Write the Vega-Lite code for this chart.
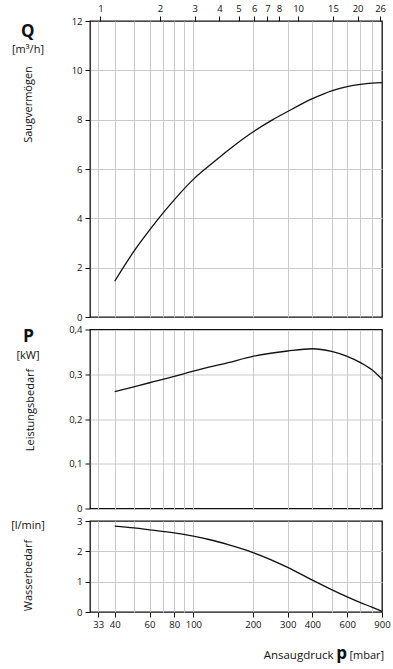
{
  "$schema": "https://vega.github.io/schema/vega-lite/v6.json",
  "background": "white",
  "padding": {"left": 9, "top": 2, "right": 6, "bottom": 4},
  "bounds": "flush",
  "spacing": 12.5,
  "datasets": {
    "saug": [
      {"druck": 40, "wert": 1.45}, {"druck": 50, "wert": 2.66},
      {"druck": 60, "wert": 3.52}, {"druck": 70, "wert": 4.2}, {"druck": 80, "wert": 4.75},
      {"druck": 100, "wert": 5.58}, {"druck": 125, "wert": 6.24}, {"druck": 150, "wert": 6.76},
      {"druck": 200, "wert": 7.5}, {"druck": 250, "wert": 7.98}, {"druck": 300, "wert": 8.33},
      {"druck": 400, "wert": 8.85}, {"druck": 500, "wert": 9.17}, {"druck": 600, "wert": 9.34},
      {"druck": 700, "wert": 9.43}, {"druck": 800, "wert": 9.48}, {"druck": 900, "wert": 9.5}
    ],
    "leistung": [
      {"druck": 40, "wert": 0.261}, {"druck": 50, "wert": 0.272}, {"druck": 60, "wert": 0.281},
      {"druck": 80, "wert": 0.295}, {"druck": 100, "wert": 0.307}, {"druck": 150, "wert": 0.326},
      {"druck": 200, "wert": 0.34}, {"druck": 300, "wert": 0.352}, {"druck": 400, "wert": 0.357},
      {"druck": 500, "wert": 0.351}, {"druck": 600, "wert": 0.34}, {"druck": 700, "wert": 0.326},
      {"druck": 800, "wert": 0.31}, {"druck": 900, "wert": 0.289}
    ],
    "wasser": [
      {"druck": 40, "wert": 2.83}, {"druck": 50, "wert": 2.77}, {"druck": 60, "wert": 2.71},
      {"druck": 80, "wert": 2.61}, {"druck": 100, "wert": 2.5}, {"druck": 120, "wert": 2.39},
      {"druck": 150, "wert": 2.22}, {"druck": 200, "wert": 1.96}, {"druck": 300, "wert": 1.47},
      {"druck": 400, "wert": 1.05}, {"druck": 500, "wert": 0.74}, {"druck": 600, "wert": 0.5},
      {"druck": 700, "wert": 0.31}, {"druck": 800, "wert": 0.16}, {"druck": 900, "wert": 0.02}
    ]
  },
  "config": {
    "font": "Open Sans",
    "view": {"stroke": "#111111", "strokeWidth": 1.3},
    "axis": {
      "labelFont": "Open Sans", "labelFontSize": 9.5, "labelColor": "#111111",
      "titleFont": "Open Sans", "titleFontSize": 11, "titleFontWeight": "normal", "titleColor": "#111111",
      "tickColor": "#111111", "tickSize": 5, "labelPadding": 3,
      "gridColor": "#cacaca", "gridWidth": 1, "domain": false,
      "labelOverlap": false, "labelFlush": false
    },
    "line": {"color": "#111111", "strokeWidth": 1.3, "interpolate": "monotone"}
  },
  "vconcat": [
    {
      "width": 292, "height": 296,
      "data": {"name": "saug"},
      "resolve": {"axis": {"x": "independent", "y": "independent"}},
      "layer": [
        {
          "mark": {"type": "line"},
          "encoding": {
            "x": {"field": "druck", "type": "quantitative", "scale": {"type": "log", "domain": [30, 900]},
              "axis": {"orient": "bottom", "values": [33, 40, 50, 60, 70, 80, 90, 100, 200, 300, 400, 500, 600, 700, 800], "labels": false, "ticks": false, "grid": true, "title": null}},
            "y": {"field": "wert", "type": "quantitative", "scale": {"domain": [0, 12]},
              "axis": {"orient": "left", "values": [0, 2, 4, 6, 8, 10, 12], "grid": false, "title": "Saugvermögen", "titleAngle": 270, "titleX": -61.7, "titleY": 83, "titleAlign": "center", "titleBaseline": "middle"}}
          }
        },
        {
          "mark": {"type": "line", "opacity": 0},
          "encoding": {
            "x": {"field": "druck", "type": "quantitative", "scale": {"type": "log", "domain": [30, 900]},
              "axis": {"orient": "top", "values": [33.864, 67.728, 101.592, 135.456, 169.32, 203.183, 237.047, 270.911, 338.639, 507.959, 677.278, 880.461],
                "labelExpr": "format(datum.value / 33.8639, '.0f')", "grid": false, "tickSize": 5, "labelPadding": 3, "title": null}},
            "y": {"field": "wert", "type": "quantitative", "scale": {"domain": [0, 12]},
              "axis": {"orient": "left", "labels": false, "ticks": false, "grid": false, "title": "Q", "titleAngle": 0, "titleX": -62.7, "titleY": 15.5, "titleAlign": "center", "titleBaseline": "alphabetic", "titleFontSize": 17, "titleFontWeight": "bold"}}
          }
        },
        {
          "mark": {"type": "line", "opacity": 0},
          "encoding": {
            "x": {"field": "druck", "type": "quantitative", "scale": {"type": "log", "domain": [30, 900]}, "axis": null},
            "y": {"field": "wert", "type": "quantitative", "scale": {"domain": [0, 12]},
              "axis": {"orient": "left", "values": [2, 4, 6, 8, 10], "labels": false, "ticks": false, "grid": true, "title": "[m³/h]", "titleAngle": 0, "titleX": -62.5, "titleY": 31.5, "titleAlign": "center", "titleBaseline": "alphabetic"}}
          }
        }
      ]
    },
    {
      "width": 292, "height": 179,
      "data": {"name": "leistung"},
      "resolve": {"axis": {"x": "independent", "y": "independent"}},
      "layer": [
        {
          "mark": {"type": "line"},
          "encoding": {
            "x": {"field": "druck", "type": "quantitative", "scale": {"type": "log", "domain": [30, 900]},
              "axis": {"orient": "bottom", "values": [33, 40, 50, 60, 70, 80, 90, 100, 200, 300, 400, 500, 600, 700, 800], "labels": false, "ticks": false, "grid": true, "title": null}},
            "y": {"field": "wert", "type": "quantitative", "scale": {"domain": [0, 0.4]},
              "axis": {"orient": "left", "values": [0, 0.1, 0.2, 0.3, 0.4], "labelExpr": "datum.value == 0 ? '0' : replace(format(datum.value, '.1f'), '.', ',')", "grid": false,
                "title": "Leistungsbedarf", "titleAngle": 270, "titleX": -60, "titleY": 80, "titleAlign": "center", "titleBaseline": "middle"}}
          }
        },
        {
          "mark": {"type": "line", "opacity": 0},
          "encoding": {
            "x": {"field": "druck", "type": "quantitative", "scale": {"type": "log", "domain": [30, 900]}, "axis": null},
            "y": {"field": "wert", "type": "quantitative", "scale": {"domain": [0, 0.4]},
              "axis": {"orient": "left", "labels": false, "ticks": false, "grid": false, "title": "P", "titleAngle": 0, "titleX": -62, "titleY": 12, "titleAlign": "center", "titleBaseline": "alphabetic", "titleFontSize": 17.5, "titleFontWeight": "bold"}}
          }
        },
        {
          "mark": {"type": "line", "opacity": 0},
          "encoding": {
            "x": {"field": "druck", "type": "quantitative", "scale": {"type": "log", "domain": [30, 900]}, "axis": null},
            "y": {"field": "wert", "type": "quantitative", "scale": {"domain": [0, 0.4]},
              "axis": {"orient": "left", "values": [0.1, 0.2, 0.3], "labels": false, "ticks": false, "grid": true, "title": "[kW]", "titleAngle": 0, "titleX": -62.5, "titleY": 28.5, "titleAlign": "center", "titleBaseline": "alphabetic"}}
          }
        }
      ]
    },
    {
      "width": 292, "height": 91,
      "data": {"name": "wasser"},
      "resolve": {"axis": {"x": "independent", "y": "independent"}},
      "layer": [
        {
          "mark": {"type": "line"},
          "encoding": {
            "x": {"field": "druck", "type": "quantitative", "scale": {"type": "log", "domain": [30, 900]},
              "axis": {"orient": "bottom", "values": [33, 40, 50, 60, 70, 80, 90, 100, 200, 300, 400, 500, 600, 700, 800], "labels": false, "ticks": false, "grid": true,
                "title": "[mbar]", "titleX": 259, "titleY": 46, "titleAlign": "left", "titleBaseline": "alphabetic"}},
            "y": {"field": "wert", "type": "quantitative", "scale": {"domain": [0, 3]},
              "axis": {"orient": "left", "values": [0, 1, 2, 3], "grid": false, "title": "Wasserbedarf", "titleAngle": 270, "titleX": -61.7, "titleY": 54, "titleAlign": "center", "titleBaseline": "middle"}}
          }
        },
        {
          "mark": {"type": "line", "opacity": 0},
          "encoding": {
            "x": {"field": "druck", "type": "quantitative", "scale": {"type": "log", "domain": [30, 900]},
              "axis": {"orient": "bottom", "values": [33, 40, 60, 80, 100, 200, 300, 400, 600, 900], "format": "d", "grid": false, "tickSize": 5, "labelPadding": 2,
                "title": "Ansaugdruck", "titleX": 243, "titleY": 46, "titleAlign": "right", "titleBaseline": "alphabetic", "titleFontSize": 11.5}},
            "y": {"field": "wert", "type": "quantitative", "scale": {"domain": [0, 3]},
              "axis": {"orient": "left", "values": [1, 2], "labels": false, "ticks": false, "grid": true, "title": "[l/min]", "titleAngle": 0, "titleX": -62.5, "titleY": 7.5, "titleAlign": "center", "titleBaseline": "alphabetic"}}
          }
        },
        {
          "mark": {"type": "line", "opacity": 0},
          "encoding": {
            "x": {"field": "druck", "type": "quantitative", "scale": {"type": "log", "domain": [30, 900]},
              "axis": {"orient": "bottom", "labels": false, "ticks": false, "grid": false, "title": "p", "titleX": 251, "titleY": 46, "titleAlign": "center", "titleBaseline": "alphabetic", "titleFontSize": 17, "titleFontWeight": "bold"}},
            "y": {"field": "wert", "type": "quantitative", "scale": {"domain": [0, 3]}, "axis": null}
          }
        }
      ]
    }
  ]
}
